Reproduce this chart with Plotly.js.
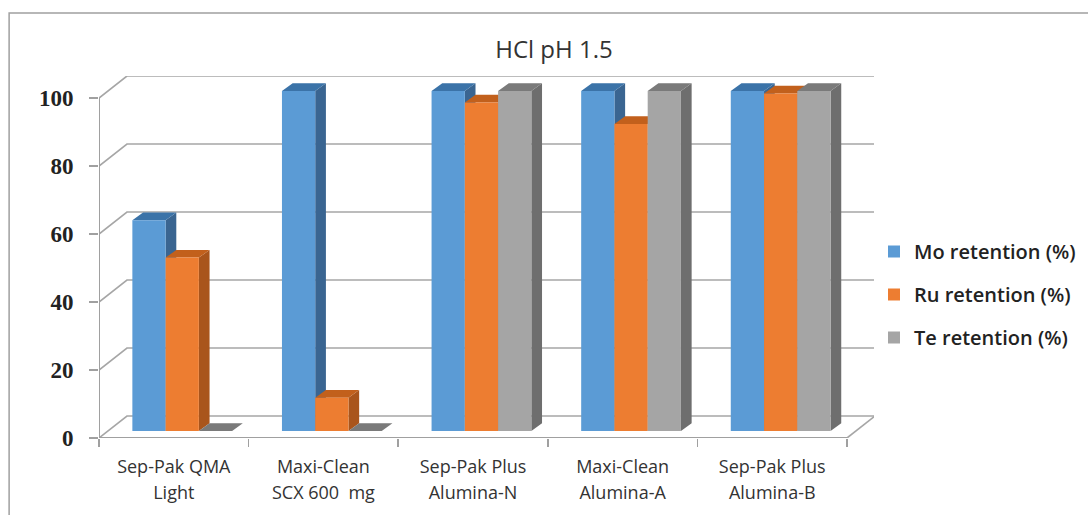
<!DOCTYPE html>
<html><head><meta charset="utf-8">
<script src="https://cdn.plot.ly/plotly-3.0.1.min.js"></script>
<style>html,body{margin:0;padding:0;background:#fff}</style>
</head><body><div id="chart" style="width:1088px;height:515px"></div>
<script>
const categoryLines = [["Sep-Pak QMA","Light"],["Maxi-Clean","SCX 600  mg"],["Sep-Pak Plus","Alumina-N"],["Maxi-Clean","Alumina-A"],["Sep-Pak Plus","Alumina-B"]];
const moRetention = [62, 100, 100, 100, 100];
const ruRetention = [51, 9.8, 96.6, 90.3, 99.3];
const teRetention = [0, 0, 100, 100, 100];
const yTicks = [0, 20, 40, 60, 80, 100];

const W = 1088, H = 515, L = 99, R = 875, T = 76, B = 438;
const catPx = 149.8, valPx = 3.4;
const xRange = [-0.5, (R - L) / catPx - 0.5];
const yRange = [0, (B - T) / valPx];
const wallDx = 28 / catPx, wallDv = 22 / valPx;
const barW = 33.3 / catPx, barStart = -41.5 / catPx;
const barBase = 7 / valPx, barDx = 10.7 / catPx, barDv = 7.7 / valPx;
const xs = categoryLines.map((_, i) => i);
const axisEnd = xs.length - 0.5;

const series = [
  {name:"Mo retention (%)", vals:moRetention, front:"#5B9BD5", top:"#3B73A8", side:"#3A6591"},
  {name:"Ru retention (%)", vals:ruRetention, front:"#ED7D31", top:"#C2601C", side:"#A9551C"},
  {name:"Te retention (%)", vals:teRetention, front:"#A5A5A5", top:"#7A7A7A", side:"#6E6E6E"}
];

const traces = [];
// walls
const wallX = [], wallY = [];
yTicks.forEach(v => {
  wallX.push(-0.5, -0.5 + wallDx, axisEnd + wallDx, null);
  wallY.push(v, v + wallDv, v + wallDv, null);
});
wallX.push(axisEnd, axisEnd + wallDx, null); wallY.push(0, wallDv, null);
traces.push({type:"scatter", mode:"lines", x:wallX, y:wallY, line:{color:"#A6A6A6", width:1.6}, cliponaxis:false, showlegend:false, hoverinfo:"skip", zorder:0});
traces.push({type:"scatter", mode:"lines", x:[-0.5,-0.5,null,-0.5,axisEnd], y:[100,0,null,0,0], line:{color:"#A0A0A0", width:2}, cliponaxis:false, showlegend:false, hoverinfo:"skip", zorder:0});

series.forEach((s, k) => {
  const off = barStart + k * barW;
  const tx = [], ty = [], sx = [], sy = [];
  s.vals.forEach((v, i) => {
    const x0 = i + off, x1 = x0 + barW, b = barBase, t = barBase + v;
    tx.push(x0, x1, x1 + barDx, x0 + barDx, x0, null);
    ty.push(t, t, t + barDv, t + barDv, t, null);
    sx.push(x1, x1 + barDx, x1 + barDx, x1, x1, null);
    sy.push(b, b + barDv, t + barDv, t, b, null);
  });
  const z = 1 + k * 2;
  traces.push({type:"scatter", mode:"lines", x:sx, y:sy, fill:"toself", fillcolor:s.side, line:{width:0, color:s.side}, showlegend:false, hoverinfo:"skip", zorder:z});
  traces.push({type:"scatter", mode:"lines", x:tx, y:ty, fill:"toself", fillcolor:s.top, line:{width:0, color:s.top}, showlegend:false, hoverinfo:"skip", zorder:z});
  traces.push({type:"bar", name:s.name, x:xs, y:s.vals, base:barBase, width:barW, offset:off,
    marker:{color:s.front, line:{width:0}}, legendgroup:s.name, zorder:z + 1});
});

const layout = {
  width:W, height:H, paper_bgcolor:"#fff", plot_bgcolor:"rgba(0,0,0,0)",
  margin:{l:L, r:W - R, t:T, b:H - B, pad:0},
  barmode:"overlay", showlegend:true,
  title:{text:"HCl pH 1.5", x:554/W, xref:"container", xanchor:"center", y:1 - 50/H, yref:"container", yanchor:"middle",
    font:{family:"Open Sans", size:24, color:"#333"}},
  xaxis:{range:xRange, showgrid:false, zeroline:false, showline:false, ticks:"", tickmode:"array", tickvals:xs,
    ticktext:categoryLines.map(l => l.map(t => '<span style="font-size:18px">' + t + '</span>').join("<br>")),
    tickfont:{family:"Open Sans", size:20, color:"#333"}, tickangle:0, ticklabelstandoff:14,
    minor:{tickmode:"array", tickvals:[-0.5,0.5,1.5,2.5,3.5,4.5], ticks:"outside", ticklen:8, tickwidth:1.5, tickcolor:"#A0A0A0", showgrid:false}},
  yaxis:{range:yRange, showgrid:false, zeroline:false, showline:false, tickmode:"array", tickvals:yTicks,
    ticks:"outside", ticklen:9, tickwidth:1.5, tickcolor:"#A0A0A0", ticklabelstandoff:11,
    tickfont:{family:"Liberation Serif", size:23, color:"#222", weight:"bold"}},
  legend:{x:874/W, xref:"container", y:1 - 232/H, yref:"container", yanchor:"top", xanchor:"left", tracegroupgap:14, itemclick:false,
    font:{family:"Open Sans", size:20, color:"#222", weight:600}, bgcolor:"rgba(0,0,0,0)"},
  shapes:[{type:"path", xref:"paper", yref:"paper",
    path:`M ${(9-L)/(R-L)} ${(B-H-2)/(B-T)} L ${(9-L)/(R-L)} ${(B-13)/(B-T)} L ${(1090-L)/(R-L)} ${(B-13)/(B-T)}`,
    line:{color:"#A0A0A0", width:1.5}, layer:"below"}],
  hovermode:false
};
Plotly.newPlot("chart", traces, layout, {displayModeBar:false, staticPlot:true});
</script></body></html>
